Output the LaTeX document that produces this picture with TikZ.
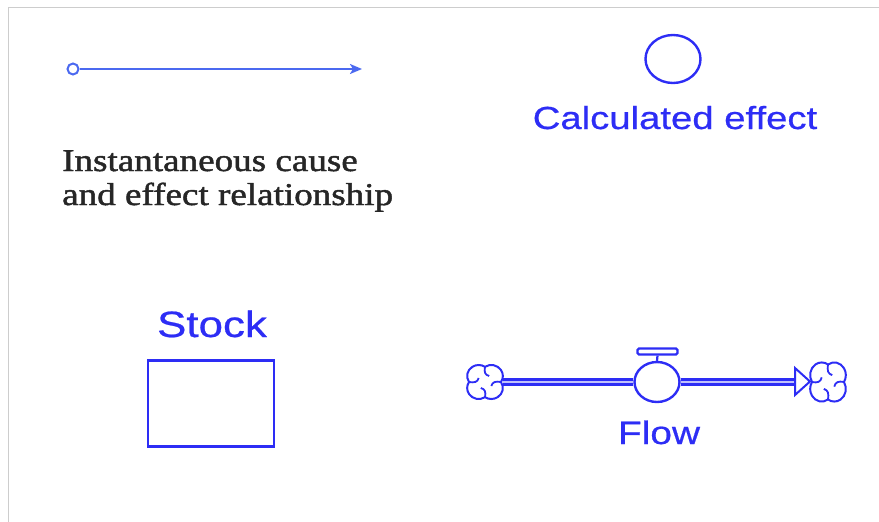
\documentclass[tikz,border=0pt]{standalone}
\usepackage{fontspec}
\setmainfont{Liberation Serif}
\newfontfamily\serifw[FakeStretch=1.17,FakeBold=1.5]{Liberation Serif}
\newfontfamily\sansw[FakeStretch=1.2,FakeBold=0.6]{Liberation Sans}
\usetikzlibrary{arrows.meta,shapes.geometric}
\definecolor{vblue}{RGB}{45,45,245}
\definecolor{lblue}{RGB}{75,105,240}
\definecolor{frame}{RGB}{205,205,205}
\tikzset{
  vtext/.style={text=vblue,inner sep=0pt,anchor=base},
  btext/.style={text=black!85,inner sep=0pt,anchor=base west,font=\serifw\fontsize{31.7}{34}\selectfont},
  vshape/.style={draw=vblue,line width=2.4pt},
  pipe/.style={draw=vblue,line width=3pt,double=vblue!30,double distance=1.6pt},
  cloudicon/.pic={
    \draw[vblue,line width=2pt]
      (0,15.22) arc[start angle=123.05,end angle=-33.05,radius=11]
      arc[start angle=33.05,end angle=-123.05,radius=11]
      arc[start angle=-56.95,end angle=-213.05,radius=11]
      arc[start angle=-146.95,end angle=-303.05,radius=11] -- cycle;
    \foreach \a in {0,90,180,270}
      \draw[vblue,line width=1.8pt,rotate=\a] (0,15.22) .. controls (-1,10) and (0,7) .. (4,6);
  }
}
\begin{document}
\begin{tikzpicture}[x=1pt,y=-1pt]
\useasboundingbox (0,0) rectangle (879,522);
% frame
\draw[frame,line width=1pt] (879,7) -- (8,7) -- (8,522);
% causal arrow
\node[draw=lblue,line width=2pt,circle,minimum size=11pt,inner sep=0pt] (src) at (73,69) {};
\coordinate (tip) at (362,69);
\draw[lblue,line width=2.2pt,-{Stealth[length=12pt,width=10pt,inset=3pt]}] (src) -- (tip);
\node[btext] (t1) at (62,171) {Instantaneous cause};
\node[btext] (t2) at (62,205) {and effect relationship};
% calculated effect
\node[vshape,ellipse,minimum width=55pt,minimum height=48pt,inner sep=0pt] (aux) at (673,59) {};
\node[vtext,font=\sansw\fontsize{31.9}{36}\selectfont] (auxlbl) at (675,129) {Calculated effect};
% stock
\node[vtext,font=\sansw\fontsize{36.6}{40}\selectfont] (stocklbl) at (212,337) {Stock};
\node[vshape,rectangle,minimum width=126pt,minimum height=86pt,inner sep=0pt] (stock) at (211,403.5) {};
% flow
\node[inner sep=0pt,minimum width=36pt,minimum height=34pt] (c1) at (485,382) {};
\node[inner sep=0pt,minimum width=36pt,minimum height=38pt] (c2) at (828,382) {};
\pic[xscale=1.05,yscale=-1.0] at (c1) {cloudicon};
\pic[xscale=1.05,yscale=-1.15] at (c2) {cloudicon};
\node[vshape,ellipse,fill=white,minimum width=45pt,minimum height=40pt,inner sep=0pt] (valve) at (657,382) {};
\node[draw=vblue,line width=2.2pt,rounded corners=1.5pt,fill=white,minimum width=40pt,minimum height=6pt,inner sep=0pt] (bar) at (657.5,351.5) {};
\draw[vblue,line width=2.2pt] (valve.north) -- (bar.south);
\coordinate (tl) at (795,368);
\coordinate (tb) at (795,395);
\coordinate (tp) at (810,381.5);
\draw[pipe] (c1.east) -- (valve.west);
\draw[pipe] (valve.east) -- (795,382);
\draw[vblue,line width=2pt,fill=white,line join=miter] (tl) -- (tp) -- (tb) -- cycle;
\node[vtext,font=\sansw\fontsize{32.4}{36}\selectfont] (flowlbl) at (659,444) {Flow};
\end{tikzpicture}
\end{document}
